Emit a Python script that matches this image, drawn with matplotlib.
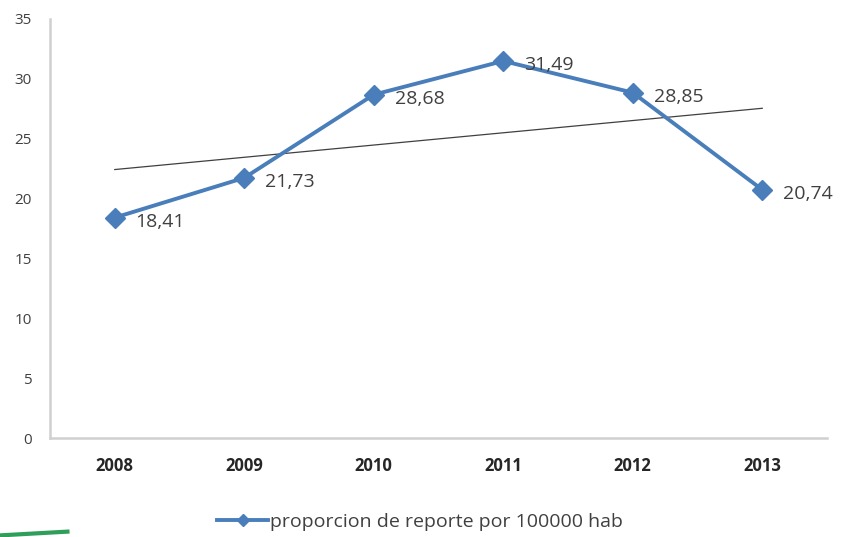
import numpy as np
import matplotlib.pyplot as plt

years = ["2008", "2009", "2010", "2011", "2012", "2013"]
proporcion = [18.41, 21.73, 28.68, 31.49, 28.85, 20.74]
labels = ["18,41", "21,73", "28,68", "31,49", "28,85", "20,74"]
yticks = [0, 5, 10, 15, 20, 25, 30, 35]

fig = plt.figure(figsize=(8.43, 5.37), dpi=100)
ax = fig.add_axes([50/843, 99/537, 777/843, 419/537])

x = np.arange(len(years))
blue = "#4a7ebb"

# linear trend line through the series
m, b = np.polyfit(x, proporcion, 1)
ax.plot(x, m * x + b, color="#404040", lw=0.9, zorder=2)

ax.plot(x, proporcion, color=blue, lw=2.8, marker="D", ms=10, zorder=3)

for xi, yi, t in zip(x, proporcion, labels):
    ax.annotate(t, (xi, yi), xytext=(15, -3), textcoords="offset points",
                ha="left", va="center", fontsize=14, color="#404040",
                family="Open Sans")

ax.set_xlim(-0.5, len(years) - 0.5)
ax.set_ylim(0, 35)
ax.set_xticks(x)
ax.set_xticklabels(years, fontweight="bold", fontsize=12, color="#262626",
                   family="Open Sans")
ax.set_yticks(yticks)
ax.set_yticklabels([str(v) for v in yticks], fontsize=11, color="#404040",
                   family="Open Sans")
ax.tick_params(length=0)
ax.tick_params(axis="y", pad=13)
ax.tick_params(axis="x", pad=14)

for s in ["top", "right"]:
    ax.spines[s].set_visible(False)
for s in ["left", "bottom"]:
    ax.spines[s].set_color("#d0d0d0")
    ax.spines[s].set_linewidth(1.8)

# legend entry
h = plt.Line2D([], [], color=blue, lw=2.8, marker="D", ms=6)
fig.legend([h], ["proporcion de reporte por 100000 hab"], loc="center",
           bbox_to_anchor=(420/843, 1 - 522/537), frameon=False,
           prop={"family": "Open Sans", "size": 14}, handlelength=2.6,
           handletextpad=0.1, labelcolor="#404040")

# green smudge in the lower left corner of the source image
fig.add_artist(plt.Line2D([0.0, 0.08], [0.003, 0.01], color="#2e9e5a",
                          lw=3, transform=fig.transFigure))

fig.savefig("out.png", dpi=100)
